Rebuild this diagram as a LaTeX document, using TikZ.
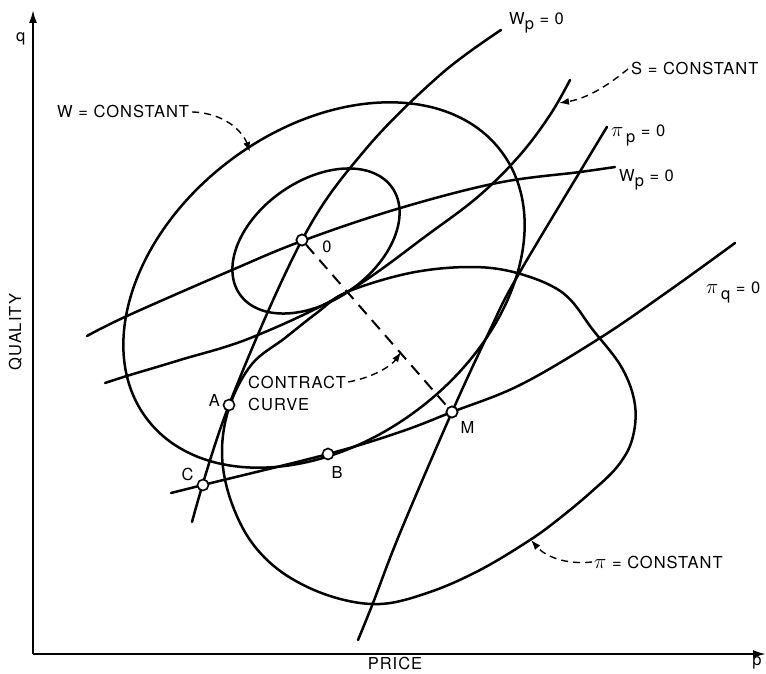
\documentclass[tikz,border=0pt]{standalone}
\usepackage{fontspec}
\setmainfont{TeX Gyre Heros}
\newfontfamily\lblfont[LetterSpace=6.0]{TeX Gyre Heros}
\usetikzlibrary{arrows.meta}
\newcommand\mypi{{\fontsize{21}{21}\selectfont$\pi$}}
\begin{document}
\begin{tikzpicture}[x=1pt,y=-1pt,
  curve/.style={line width=2.5pt, line join=round, line cap=round},
  axisline/.style={line width=2pt, -{Latex[length=13pt,width=8pt]}},
  leader/.style={line width=1.4pt, dash pattern=on 7pt off 5pt, -{Latex[length=10pt,width=7pt]}},
  contract/.style={line width=2pt, dash pattern=on 12pt off 8pt},
  dot/.style={circle, draw, fill=white, line width=1.6pt, inner sep=0pt, minimum size=11pt},
  lbl/.style={font=\lblfont\fontsize{16.5}{19}\selectfont, inner sep=0pt, text=black}
]
\fill[white] (0,0) rectangle (766,674);
\useasboundingbox (0,0) rectangle (766,674);

% axes
\coordinate (orig) at (33,654);
\coordinate (qtip) at (33,10);
\coordinate (ptip) at (766,654);
\draw[axisline] (orig) -- (qtip);
\draw[axisline] (orig) -- (ptip);

% W = constant (large)
\draw[curve, rotate around={37:(324,285)}] (324,285) ellipse [x radius=222, y radius=156];

% W = constant (small)
\draw[curve, rotate around={35:(316,241)}] (316,241) ellipse [x radius=93, y radius=60];

% pi = constant
\draw[curve] plot[smooth cycle, tension=0.6] coordinates {
 (347,292) (410,273) (470,267) (517,273) (563,293) (593,330) (622,368) (635,405)
 (632,440) (617,467) (590,493) (560,518) (530,540) (480,570) (430,592) (380,604)
 (330,596) (283,573) (250,540) (229,495) (222,450) (230,405) (252,364) (285,338)
 (318,312)};

% steep Wp = 0
\draw[curve] plot[smooth, tension=0.6] coordinates {
 (192,522) (229,405) (302,240) (365,150) (440,75) (501,30)};

% flat Wp = 0
\draw[curve] plot[smooth, tension=0.6] coordinates {
 (87,336) (127,316) (232,270) (302,241) (397,209) (497,183) (580,172) (615,167)};

% S = constant
\draw[curve] plot[smooth, tension=0.6] coordinates {
 (105,383) (130,375) (180,360) (253,337) (347,292) (430,233) (480,195) (520,155)
 (550,115) (570,80)};

% pi_q = 0
\draw[curve] plot[smooth, tension=0.6] coordinates {
 (171,493) (203,485) (328,454) (400,432) (452,412) (520,385) (600,338) (670,290) (735,243)};

% pi_p = 0
\draw[curve] plot[smooth, tension=0.6] coordinates {
 (358,640) (373,603) (400,533) (452,412) (490,330) (517,277) (593,150) (607,127)};

% points
\node[dot] (O) at (302,240) {};
\node[dot] (M) at (452,412) {};
\node[dot] (A) at (229,405) {};
\node[dot] (B) at (328,454) {};
\node[dot] (C) at (203,485) {};
\draw[contract] (O) -- (M);
\node[dot] at (O) {};
\node[dot] at (M) {};

% labels
\node[lbl] (Olab) at (327,247) {0};
\node[lbl] (Mlab) at (467.5,427.5) {M};
\node[lbl] (Alab) at (214.5,400.5) {A};
\node[lbl] (Blab) at (337,472.5) {B};
\node[lbl] (Clab) at (187.5,474) {C};

\node[lbl, anchor=base west] (wp1) at (509,25) {W\raisebox{-5pt}{p} = 0};
\node[lbl, anchor=base west] (wp2) at (619,182) {W\raisebox{-5pt}{p} = 0};
\node[lbl, anchor=base west] (pip) at (611,137) {\mypi\,\raisebox{-6pt}{p} = 0};
\node[lbl, anchor=base west] (piq) at (706,293) {\mypi\,\raisebox{-6pt}{q} = 0};
\node[lbl, anchor=base west] (slab) at (631,75) {S = CONSTANT};
\node[lbl, anchor=base west] (wlab) at (57,118) {W = CONSTANT};
\node[lbl, anchor=base west] (pilab) at (594,568) {\mypi{} = CONSTANT};
\node[lbl, anchor=base west] (ct1) at (248,388) {CONTRACT};
\node[lbl, anchor=base west] (ct2) at (248,410) {CURVE};
\node[lbl, anchor=base west] (qlab) at (16,42) {q};
\node[lbl, anchor=base] (plab) at (757,665) {p};
\node[lbl, anchor=base] (pricelab) at (395,669) {PRICE};
\node[lbl, anchor=base, rotate=90] (quallab) at (21,332) {QUALITY};

% leaders
\coordinate (wtip) at (250,152);
\coordinate (stip) at (559,103);
\coordinate (ctip) at (401,352);
\coordinate (pitip) at (531,540);
\draw[leader] ([xshift=3pt]wlab.east) .. controls (225,113) and (243,132) .. (wtip);
\draw[leader] ([xshift=-3pt]slab.west) .. controls (612,82) and (590,98) .. (stip);
\draw[leader] ([xshift=2pt]ct1.east) .. controls (375,377) and (392,365) .. (ctip);
\draw[leader] ([xshift=-2pt]pilab.west) .. controls (565,565) and (545,556) .. (pitip);
\end{tikzpicture}
\end{document}
